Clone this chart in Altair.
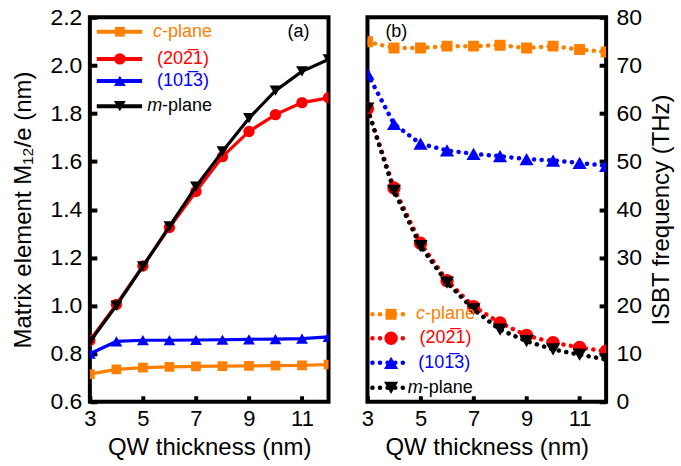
import altair as alt
import pandas as pd

# Quantum-well thickness (nm)
thickness = [3, 4, 5, 6, 7, 8, 9, 10, 11, 12]

series = ["c-plane", "(202\u03051)", "(101\u03053)", "m-plane"]
colors = ["#FF8000", "#FF0000", "#0000FF", "#000000"]
shapes = ["square", "circle", "triangle-up", "triangle-down"]

# (a) dipole matrix element M12/e (nm)
m12_cplane = [0.715, 0.735, 0.742, 0.745, 0.747, 0.748, 0.749, 0.750, 0.751, 0.755]
m12_2021 = [0.855, 1.005, 1.165, 1.325, 1.475, 1.620, 1.725, 1.795, 1.845, 1.865]
m12_1013 = [0.800, 0.851, 0.856, 0.856, 0.857, 0.858, 0.860, 0.861, 0.863, 0.870]
m12_mplane = [0.850, 1.000, 1.163, 1.330, 1.495, 1.642, 1.780, 1.895, 1.975, 2.025]

# (b) intersubband transition frequency (THz)
isbt_cplane = [74.9, 73.6, 73.6, 74.0, 74.0, 74.2, 73.6, 74.0, 73.3, 72.8]
isbt_2021 = [61.0, 44.5, 33.0, 25.2, 19.8, 16.4, 13.8, 12.3, 11.3, 10.5]
isbt_1013 = [68.3, 57.8, 53.7, 52.3, 51.6, 51.1, 50.5, 50.2, 49.7, 49.1]
isbt_mplane = [61.0, 43.9, 32.4, 24.8, 19.2, 15.0, 12.6, 10.9, 9.8, 8.8]

# legend label pieces: italic prefix, upright remainder
label_italic = ["c", "", "", "m"]
label_rest = ["-plane", "(202\u03051)", "(101\u03053)", "-plane"]
label_colors = ["#FF8000", "#FF0000", "#0000FF", "#000000"]
italic_width = [9, 0, 0, 15]

# legend placement (data units of each panel)
leg_a_y = [2.14, 2.027, 1.935, 1.83]
leg_a_x = [3.26, 4.97, 4.13]          # line start, line end, marker
leg_a_text_x = [5.38, 5.53, 5.53, 5.16]
leg_b_y = [18.2, 13.2, 8.1, 2.9]
leg_b_x = [2.9, 4.47, 3.89]
leg_b_text_x = [4.83, 4.96, 4.92, 4.52]

FONT = "Liberation Sans"
W, H = 239, 385


def x_enc():
    return alt.X(
        "thickness:Q",
        scale=alt.Scale(domain=[3, 12], nice=False, zero=False),
        axis=alt.Axis(
            values=thickness,
            labelExpr="datum.value % 2 == 1 ? datum.label : ''",
            title="QW thickness (nm)",
            tickSize={"expr": "-6"},
            labelPadding=13,
            titlePadding=6,
            labelFontSize=22,
            labelFlush=False,
        ),
    )


def series_layers(values, y_enc, dotted, msize):
    layers = []
    for name, vals, col, shp in zip(series, values, colors, shapes):
        df = pd.DataFrame({"thickness": thickness, "value": vals, "series": name})
        base = alt.Chart(df).encode(x=x_enc(), y=y_enc)
        if dotted:
            line = base.mark_line(color=col, strokeWidth=4.5, strokeDash=[0.1, 7.5],
                                  strokeCap="round", clip=True)
        else:
            line = base.mark_line(color=col, strokeWidth=3.2, clip=True)
        pts = base.mark_point(shape=shp, filled=True, color=col, opacity=1,
                              size=msize[shp], clip=True)
        layers += [line, pts]
    return layers


def legend_layers(ys, xs, text_x, yfield_scale, dotted, msize):
    layers = []
    for i in range(4):
        row = pd.DataFrame({"x1": [xs[0]], "x2": [xs[1]], "xm": [xs[2]], "y": [ys[i]],
                            "xt": [text_x[i]], "it": [label_italic[i]], "rest": [label_rest[i]]})
        b = alt.Chart(row)
        y = alt.Y("y:Q", scale=yfield_scale)
        if dotted:
            rule = b.mark_rule(color=colors[i], strokeWidth=4.5, strokeDash=[0.1, 7.5],
                               strokeCap="round", clip=True)
        else:
            rule = b.mark_rule(color=colors[i], strokeWidth=4, clip=True)
        layers.append(rule.encode(x=alt.X("x1:Q"), x2="x2:Q", y=y))
        layers.append(b.mark_point(shape=shapes[i], filled=True, color=colors[i],
                                   opacity=1, size=msize[shapes[i]]).encode(
            x=alt.X("xm:Q"), y=y))
        if label_italic[i]:
            layers.append(b.mark_text(align="left", baseline="middle", font=FONT,
                                      fontSize=18, fontStyle="italic",
                                      color=label_colors[i]).encode(
                x=alt.X("xt:Q"), y=y, text="it:N"))
        layers.append(b.mark_text(align="left", baseline="middle", font=FONT,
                                  fontSize=18, dx=italic_width[i],
                                  color=label_colors[i]).encode(
            x=alt.X("xt:Q"), y=y, text="rest:N"))
    return layers


# panel (a)
ya_scale = alt.Scale(domain=[0.6, 2.2], nice=False, zero=False)
ya = alt.Y(
    "value:Q",
    scale=ya_scale,
    axis=alt.Axis(
        values=[0.6, 0.8, 1.0, 1.2, 1.4, 1.6, 1.8, 2.0, 2.2],
        format=".1f",
        title="Matrix element M\u2081\u2082/e (nm)",
        tickSize={"expr": "-7"},
        labelPadding=15,
        titlePadding=14,
        labelFontSize=23,
    ),
)
size_a = {"square": 95, "circle": 130, "triangle-up": 140, "triangle-down": 140}
tag_a = alt.Chart(pd.DataFrame({"x": [10.87], "y": [2.14], "t": ["(a)"]})).mark_text(
    font=FONT, fontSize=18, color="black", baseline="middle"
).encode(x="x:Q", y=alt.Y("y:Q", scale=ya_scale), text="t:N")

panel_a = alt.layer(
    *series_layers([m12_cplane, m12_2021, m12_1013, m12_mplane], ya, False, size_a),
    *legend_layers(leg_a_y, leg_a_x, leg_a_text_x, ya_scale, False, size_a),
    tag_a,
).properties(width=W, height=H)

# panel (b)
yb_scale = alt.Scale(domain=[0, 80], nice=False, zero=False)
yb = alt.Y(
    "value:Q",
    scale=yb_scale,
    axis=alt.Axis(
        orient="right",
        values=[0, 10, 20, 30, 40, 50, 60, 70, 80],
        title="ISBT frequency (THz)",
        titleAngle=270,
        tickSize={"expr": "-7"},
        labelPadding=17,
        titlePadding=32,
        labelFontSize=23,
    ),
)
size_b = {"square": 120, "circle": 180, "triangle-up": 200, "triangle-down": 200}
tag_b = alt.Chart(pd.DataFrame({"x": [4.09], "y": [77.0], "t": ["(b)"]})).mark_text(
    font=FONT, fontSize=18, color="black", baseline="middle"
).encode(x="x:Q", y=alt.Y("y:Q", scale=yb_scale), text="t:N")

panel_b = alt.layer(
    *series_layers([isbt_cplane, isbt_2021, isbt_1013, isbt_mplane], yb, True, size_b),
    *legend_layers(leg_b_y, leg_b_x, leg_b_text_x, yb_scale, True, size_b),
    tag_b,
).properties(width=W, height=H)

chart = (
    alt.hconcat(panel_a, panel_b, spacing=28)
    .properties(padding={"left": 10, "top": 4, "right": 5, "bottom": 0}, background="white")
    .configure_view(stroke="black", strokeWidth=4)
    .configure_axis(
        domain=False,
        grid=False,
        ticks=True,
        tickColor="black",
        tickWidth=4,
        labelColor="black",
        labelFont=FONT,
        titleFont=FONT,
        titleFontSize=24,
        titleFontWeight="normal",
        titleColor="black",
        labelOverlap=False,
    )
)

chart.save("out.html", embed_options={"renderer": "svg", "actions": False})
